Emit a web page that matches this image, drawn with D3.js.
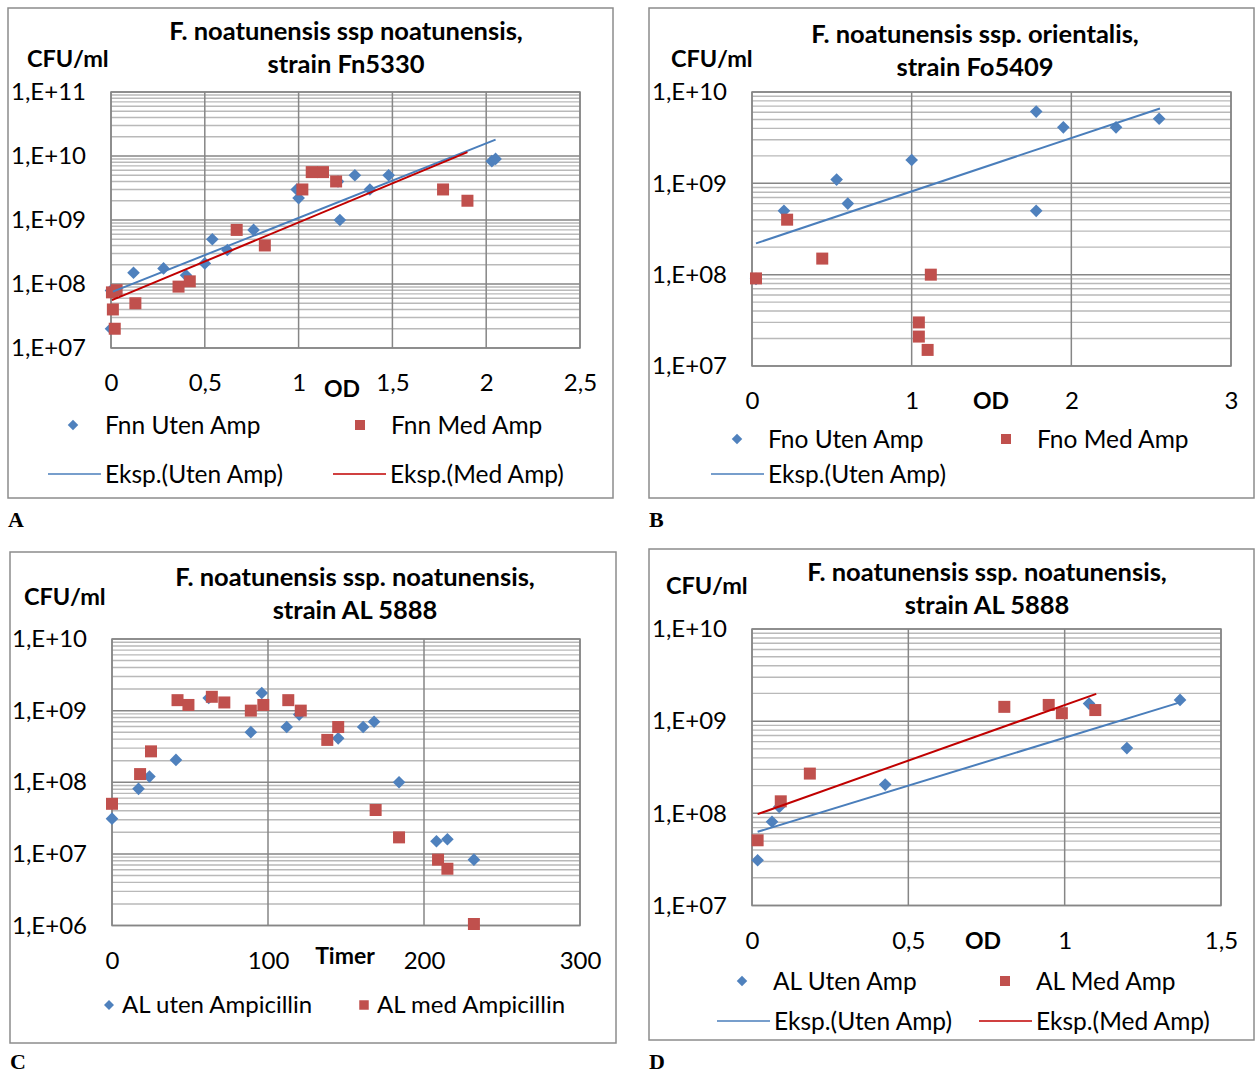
<!DOCTYPE html>
<meta charset="utf-8">
<head>
<style>
body { margin: 0; background: #fff; }
svg text { font-family: Lato, "Open Sans", sans-serif; fill: #000; }
.bold { font-weight: bold; }
.letter { font-family: "Liberation Serif", serif; font-weight: bold; font-size: 22px; }
</style>
</head>
<body>
<script src="https://cdn.jsdelivr.net/npm/d3@7/dist/d3.min.js"></script>
<script>

// ---- data ----
// A: Fn5330, OD vs CFU/ml
const fnnUten = [[0.0, 2.0e7], [0.0, 7.9e7], [0.12, 1.5e8], [0.28, 1.75e8], [0.40, 1.37e8],
  [0.50, 2.1e8], [0.54, 5.0e8], [0.62, 3.4e8], [0.76, 7.0e8], [1.0, 2.2e9], [0.99, 3.0e9],
  [1.22, 1.0e9], [1.21, 4.0e9], [1.30, 5.0e9], [1.38, 3.0e9], [1.48, 5.0e9], [2.03, 8.3e9], [2.05, 9.0e9]];
const fnnMed = [[0.02, 2.0e7], [0.01, 4.0e7], [0.005, 7.4e7], [0.03, 8.0e7], [0.13, 5.0e7],
  [0.36, 9.1e7], [0.42, 1.1e8], [0.67, 7.0e8], [0.82, 4.0e8], [1.02, 3.0e9], [1.07, 5.6e9],
  [1.13, 5.6e9], [1.20, 4.0e9], [1.77, 3.0e9], [1.90, 2.0e9]];
const fnnUtenTrend = [[0.01, 7.6e7], [2.05, 1.8e10]];
const fnnMedTrend = [[0.005, 5.6e7], [1.90, 1.15e10]];

// B: Fo5409
const fnoUten = [[0.025, 9.0e7], [0.20, 5.0e8], [0.53, 1.1e9], [0.60, 6.0e8], [1.0, 1.8e9],
  [1.78, 6.1e9], [1.95, 4.1e9], [2.28, 4.1e9], [2.55, 5.1e9], [1.78, 5.0e8]];
const fnoMed = [[0.025, 9.1e7], [0.22, 4.0e8], [0.44, 1.5e8], [1.12, 1.0e8], [1.045, 3.0e7],
  [1.045, 2.1e7], [1.10, 1.5e7]];
const fnoUtenTrend = [[0.025, 2.2e8], [2.555, 6.6e9]];

// C: AL 5888, hours vs CFU/ml
const alUten = [[0, 3.1e7], [17, 8.1e7], [24, 1.2e8], [41, 2.05e8], [62, 1.5e9], [89, 5.0e8],
  [96, 1.76e9], [112, 5.9e8], [120, 8.8e8], [145, 4.1e8], [161, 5.9e8], [168, 7.0e8],
  [184, 1.0e8], [208, 1.5e7], [215, 1.6e7], [232, 8.3e6]];
const alMed = [[0, 5.0e7], [18, 1.3e8], [25, 2.7e8], [42, 1.4e9], [49, 1.2e9], [64, 1.56e9],
  [72, 1.3e9], [89, 1.0e9], [97, 1.2e9], [113, 1.4e9], [121, 1.0e9], [138, 3.9e8], [145, 5.9e8],
  [169, 4.1e7], [184, 1.7e7], [209, 8.3e6], [215, 6.2e6], [232, 1.05e6]];

// D: AL 5888, OD vs CFU/ml
const alOdUten = [[0.018, 3.1e7], [0.064, 8.1e7], [0.087, 1.17e8], [0.426, 2.05e8],
  [1.078, 1.55e9], [1.199, 5.1e8], [1.369, 1.7e9]];
const alOdMed = [[0.018, 5.1e7], [0.092, 1.35e8], [0.185, 2.7e8], [0.807, 1.43e9],
  [0.949, 1.5e9], [0.991, 1.22e9], [1.098, 1.32e9]];
const alOdUtenTrend = [[0.018, 6.3e7], [1.369, 1.6e9]];
const alOdMedTrend = [[0.018, 9.8e7], [1.101, 1.98e9]];

const odTicksA = [0, 0.5, 1, 1.5, 2, 2.5];
const odTicksB = [0, 1, 2, 3];
const timeTicks = [0, 100, 200, 300];
const odTicksD = [0, 0.5, 1, 1.5];

const blue = "#4f81bd", red = "#c0504d", trendBlue = "#4a7ebb", trendRed = "#c00000";

const locale = d3.formatLocale({decimal: ",", thousands: ".", grouping: [3], currency: ["", ""]});
const fmtX = locale.format("~r");
const fmtY = d => "1,E+" + String(Math.round(Math.log10(d))).padStart(2, "0");

const svg = d3.select("body").append("svg")
  .attr("width", 1256)
  .attr("height", 1073);

function marker(g, kind, x, y, size) {
  const m = g.append("path")
    .attr("d", d3.symbol().type(d3.symbolSquare).size(size)())
    .attr("fill", kind === "d" ? blue : red);
  if (kind === "d") m.attr("transform", `translate(${x},${y}) rotate(45)`);
  else m.attr("transform", `translate(${x},${y})`);
}

function panel(p) {
  const g = svg.append("g");

  g.append("rect")
    .attr("x", p.frame[0]).attr("y", p.frame[1])
    .attr("width", p.frame[2] - p.frame[0]).attr("height", p.frame[3] - p.frame[1])
    .attr("fill", "#fff").attr("stroke", "#8c8c8c").attr("stroke-width", 1.5);

  const x = d3.scaleLinear().domain(p.xDomain).range([p.plot[0], p.plot[2]]);
  const y = d3.scaleLog().domain(p.yDomain).range([p.plot[3], p.plot[1]]);

  // log gridlines: 2..9 in every decade, darker at the decades
  const lo = Math.log10(p.yDomain[0]), hi = Math.log10(p.yDomain[1]);
  const minor = [];
  for (let e = lo; e < hi; e++) for (let k = 2; k <= 9; k++) minor.push(k * Math.pow(10, e));
  const majors = d3.range(lo, hi + 1).map(e => Math.pow(10, e));

  g.append("g").selectAll("line").data(minor).join("line")
    .attr("x1", p.plot[0]).attr("x2", p.plot[2])
    .attr("y1", d => y(d)).attr("y2", d => y(d))
    .attr("stroke", "#b9b9b9").attr("stroke-width", 1.4);

  g.append("g").selectAll("line").data(majors).join("line")
    .attr("x1", p.plot[0]).attr("x2", p.plot[2])
    .attr("y1", d => y(d)).attr("y2", d => y(d))
    .attr("stroke", "#868686").attr("stroke-width", 1.5);

  g.append("g").selectAll("line").data(p.xTicks).join("line")
    .attr("x1", d => x(d)).attr("x2", d => x(d))
    .attr("y1", p.plot[1]).attr("y2", p.plot[3])
    .attr("stroke", "#868686").attr("stroke-width", 1.5);

  g.append("rect")
    .attr("x", p.plot[0]).attr("y", p.plot[1])
    .attr("width", p.plot[2] - p.plot[0]).attr("height", p.plot[3] - p.plot[1])
    .attr("fill", "none").attr("stroke", "#868686").attr("stroke-width", 1.5);

  // axes (labels only)
  const yAxis = g.append("g")
    .attr("transform", `translate(${p.plot[0] - 25},0)`)
    .call(d3.axisLeft(y).tickValues(majors).tickFormat(fmtY).tickSize(0).tickPadding(0));
  const xAxis = g.append("g")
    .attr("transform", `translate(0,${p.plot[3] + 35})`)
    .call(d3.axisBottom(x).tickValues(p.xTicks).tickFormat(fmtX).tickSize(0).tickPadding(0));
  [yAxis, xAxis].forEach(a => {
    a.select(".domain").remove();
    a.selectAll("text").attr("font-family", null).attr("font-size", 24).attr("fill", "#000");
  });
  xAxis.selectAll("text").attr("dy", "0.35em").attr("y", 0);

  // trend lines
  const line = d3.line().x(d => x(d[0])).y(d => y(d[1]));

  // points
  p.series.forEach(s => {
    s.data.forEach(d => marker(g, s.kind, x(d[0]), y(d[1]), s.kind === "d" ? 80 : 144));
  });
  p.trends.forEach(t => {
    g.append("path").datum(t.data).attr("d", line)
      .attr("fill", "none").attr("stroke", t.color).attr("stroke-width", 2);
  });

  // title
  p.title.forEach((t, i) => {
    g.append("text").attr("class", "bold")
      .attr("x", p.titleX).attr("y", p.titleY + i * 33)
      .attr("text-anchor", "middle").attr("dy", "0.35em")
      .attr("font-size", 25.5).text(t);
  });
  g.append("text").attr("class", "bold")
    .attr("x", p.unit[0]).attr("y", p.unit[1]).attr("dy", "0.35em")
    .attr("font-size", 23.5).text("CFU/ml");
  g.append("text").attr("class", "bold")
    .attr("x", p.axisName[0]).attr("y", p.axisName[1]).attr("dy", "0.35em")
    .attr("text-anchor", "middle").attr("font-size", 23).text(p.axisName[2]);

  // legend
  p.legend.forEach(l => {
    if (l.kind === "line") {
      g.append("line").attr("x1", l.x).attr("x2", l.x + 53)
        .attr("y1", l.y).attr("y2", l.y)
        .attr("stroke", l.color).attr("stroke-width", 1.5);
      g.append("text").attr("x", l.x + 57).attr("y", l.y).attr("dy", "0.35em")
        .attr("font-size", p.legendSize).text(l.text);
    } else {
      marker(g, l.kind, l.x, l.y, l.kind === "d" ? p.legendMarker * 0.55 : p.legendMarker);
      g.append("text").attr("x", l.x + l.gap).attr("y", l.y).attr("dy", "0.35em")
        .attr("font-size", p.legendSize).text(l.text);
    }
  });

  svg.append("text").attr("class", "letter")
    .attr("x", p.letter[0]).attr("y", p.letter[1]).text(p.letter[2]);
}

panel({
  frame: [8, 8, 613, 498], plot: [111, 92, 580, 348],
  xDomain: [0, 2.5], xTicks: odTicksA, yDomain: [1e7, 1e11],
  title: ["F. noatunensis ssp noatunensis,", "strain Fn5330"], titleX: 346, titleY: 31,
  unit: [27, 59], axisName: [342, 389, "OD"],
  series: [{data: fnnUten, kind: "d"}, {data: fnnMed, kind: "s"}],
  trends: [{data: fnnUtenTrend, color: trendBlue}, {data: fnnMedTrend, color: trendRed}],
  legendSize: 24.5, legendMarker: 100,
  legend: [
    {kind: "d", x: 73, y: 425, gap: 32, text: "Fnn Uten Amp"},
    {kind: "s", x: 360, y: 425, gap: 31, text: "Fnn Med Amp"},
    {kind: "line", x: 48, y: 474, color: trendBlue, text: "Eksp.(Uten Amp)"},
    {kind: "line", x: 333, y: 474, color: trendRed, text: "Eksp.(Med Amp)"}
  ],
  letter: [8, 527, "A"]
});

panel({
  frame: [649, 8, 1254, 498], plot: [752, 92, 1231, 366],
  xDomain: [0, 3], xTicks: odTicksB, yDomain: [1e7, 1e10],
  title: ["F. noatunensis ssp. orientalis,", "strain Fo5409"], titleX: 975, titleY: 34,
  unit: [671, 59], axisName: [991, 401, "OD"],
  series: [{data: fnoUten, kind: "d"}, {data: fnoMed, kind: "s"}],
  trends: [{data: fnoUtenTrend, color: trendBlue}],
  legendSize: 24.5, legendMarker: 100,
  legend: [
    {kind: "d", x: 737, y: 439, gap: 31, text: "Fno Uten Amp"},
    {kind: "s", x: 1006, y: 439, gap: 31, text: "Fno Med Amp"},
    {kind: "line", x: 711, y: 474, color: trendBlue, text: "Eksp.(Uten Amp)"}
  ],
  letter: [649, 527, "B"]
});

panel({
  frame: [10, 552, 616, 1043], plot: [112, 639, 580, 925.5],
  xDomain: [0, 300], xTicks: timeTicks, yDomain: [1e6, 1e10],
  title: ["F. noatunensis ssp. noatunensis,", "strain AL 5888"], titleX: 355, titleY: 577,
  unit: [24, 597], axisName: [345, 956, "Timer"],
  series: [{data: alUten, kind: "d"}, {data: alMed, kind: "s"}],
  trends: [],
  legendSize: 24, legendMarker: 90,
  legend: [
    {kind: "d", x: 109, y: 1005, gap: 13, text: "AL uten Ampicillin"},
    {kind: "s", x: 364, y: 1005, gap: 13, text: "AL med Ampicillin"}
  ],
  letter: [10, 1069, "C"]
});

panel({
  frame: [649, 549, 1254, 1040], plot: [752, 629, 1221, 905.5],
  xDomain: [0, 1.5], xTicks: odTicksD, yDomain: [1e7, 1e10],
  title: ["F. noatunensis ssp. noatunensis,", "strain AL 5888"], titleX: 987, titleY: 572,
  unit: [666, 586], axisName: [983, 941, "OD"],
  series: [{data: alOdUten, kind: "d"}, {data: alOdMed, kind: "s"}],
  trends: [{data: alOdUtenTrend, color: trendBlue}, {data: alOdMedTrend, color: trendRed}],
  legendSize: 24.5, legendMarker: 100,
  legend: [
    {kind: "d", x: 742, y: 981, gap: 31, text: "AL Uten Amp"},
    {kind: "s", x: 1005, y: 981, gap: 31, text: "AL Med Amp"},
    {kind: "line", x: 717, y: 1021, color: trendBlue, text: "Eksp.(Uten Amp)"},
    {kind: "line", x: 979, y: 1021, color: trendRed, text: "Eksp.(Med Amp)"}
  ],
  letter: [649, 1069, "D"]
});

</script>
</body>
